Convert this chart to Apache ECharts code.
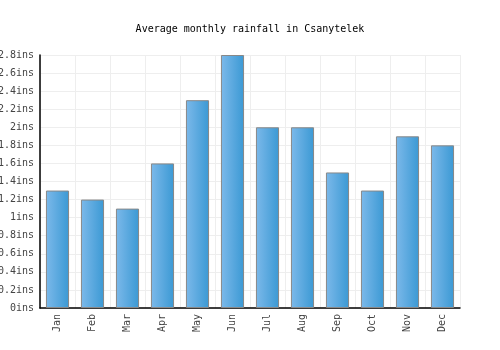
<!DOCTYPE html>
<html><head><meta charset="utf-8">
<script src="https://cdn.jsdelivr.net/npm/echarts@6/dist/echarts.min.js"></script>
<style>html,body{margin:0;padding:0;background:#fff}#c{width:500px;height:350px}</style>
</head><body><div id="c"></div>
<script>
const months = ['Jan','Feb','Mar','Apr','May','Jun','Jul','Aug','Sep','Oct','Nov','Dec'];
const rainfall = [1.3,1.2,1.1,1.6,2.3,2.8,2.0,2.0,1.5,1.3,1.9,1.8];
const titleText = 'Average monthly rainfall in Csanytelek';
const unit = 'ins';
const font = '"DejaVu Sans Mono", monospace';
const chart = echarts.init(document.getElementById('c'), null, {renderer:'canvas'});
chart.setOption({
  animation:false,
  title:{text:titleText,left:'center',top:19,textStyle:{fontFamily:font,fontSize:10,fontWeight:'normal',color:'#000'}},
  grid:{left:40,right:40,top:55,bottom:42,containLabel:false,outerBoundsMode:'none'},
  xAxis:{type:'category',data:months,
    axisLine:{lineStyle:{color:'#000',width:1.5}},
    axisTick:{show:false},
    axisLabel:{rotate:90,fontFamily:font,fontSize:10,color:'#444',margin:6},
    splitLine:{show:true,lineStyle:{color:'#eee'}}},
  yAxis:{type:'value',min:0,max:2.8,interval:0.2,
    axisLine:{show:true,lineStyle:{color:'#000',width:1.5}},
    axisTick:{show:false},
    axisLabel:{fontFamily:font,fontSize:10,color:'#444',margin:6,
      formatter:v=>(Math.round(v*10)/10)+unit},
    splitLine:{lineStyle:{color:'#eee'}}},
  series:[{type:'bar',data:rainfall,barWidth:'66%',
    itemStyle:{borderColor:'#888',borderWidth:1,
      color:new echarts.graphic.LinearGradient(0,0,1,0,[{offset:0,color:'#7cb9ea'},{offset:1,color:'#3b99d4'}])}}]
});
</script></body></html>
